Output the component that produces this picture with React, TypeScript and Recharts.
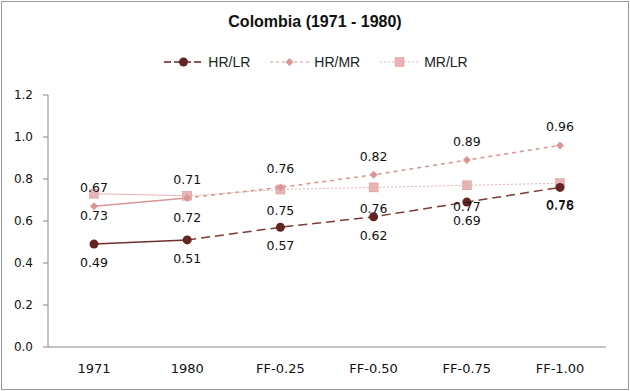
import { LineChart, Line, XAxis, YAxis, Legend, LabelList } from 'recharts';

const categories = ['1971', '1980', 'FF-0.25', 'FF-0.50', 'FF-0.75', 'FF-1.00'];
const hrLr = [0.49, 0.51, 0.57, 0.62, 0.69, 0.76];
const hrMr = [0.67, 0.71, 0.76, 0.82, 0.89, 0.96];
const mrLr = [0.73, 0.72, 0.75, 0.76, 0.77, 0.78];
const yTicks = [0, 0.2, 0.4, 0.6, 0.8, 1.0, 1.2];

const DARK = '#632523';
const PINK = '#d99694';
const LIGHT = '#e8b4b3';

// first segment (observed years) is solid, the projections are dashed
const data = categories.map((c, i) => ({
  name: c,
  hrLrA: i <= 1 ? hrLr[i] : null,
  hrLrB: i >= 1 ? hrLr[i] : null,
  hrMrA: i <= 1 ? hrMr[i] : null,
  hrMrB: i >= 1 ? hrMr[i] : null,
  mrLrA: i <= 1 ? mrLr[i] : null,
  mrLrB: i >= 1 ? mrLr[i] : null,
  hrLr: hrLr[i],
  hrMr: hrMr[i],
  mrLr: mrLr[i],
}));

const fontLabel = 'DejaVu Sans, Verdana, sans-serif';
const labelStyle = { fontFamily: fontLabel, fontSize: 12.5, fill: '#111' };

const Diamond = (props: any) => {
  const { cx, cy } = props;
  if (cx == null || cy == null) return null;
  return <path d={`M${cx},${cy - 4} L${cx + 4},${cy} L${cx},${cy + 4} L${cx - 4},${cy} Z`} fill={PINK} />;
};

const Square = (props: any) => {
  const { cx, cy } = props;
  if (cx == null || cy == null) return null;
  return <rect x={cx - 4.5} y={cy - 4.5} width={9} height={9} fill={LIGHT} stroke={PINK} strokeWidth={0.5} />;
};

const Circle = (props: any) => {
  const { cx, cy } = props;
  if (cx == null || cy == null) return null;
  return <circle cx={cx} cy={cy} r={4.5} fill={DARK} />;
};

const fmt = (v: any) => (v == null ? '' : Number(v).toFixed(2));

const LegendBox = () => {
  const items = [
    { label: 'HR/LR', color: DARK, dash: '7 3', width: 1.5, mark: 'circle' },
    { label: 'HR/MR', color: PINK, dash: '3 3', width: 1.2, mark: 'diamond' },
    { label: 'MR/LR', color: LIGHT, dash: '2 2', width: 1, mark: 'square' },
  ];
  return (
    <div style={{ display: 'flex', justifyContent: 'center', gap: 18, height: 20, alignItems: 'center' }}>
      {items.map((it) => (
        <div key={it.label} style={{ display: 'flex', alignItems: 'center' }}>
          <svg width={43} height={14}>
            <line x1={2} y1={7} x2={41} y2={7} stroke={it.color} strokeWidth={it.width} strokeDasharray={it.dash} />
            {it.mark === 'circle' && <circle cx={21.5} cy={7} r={4.5} fill={DARK} />}
            {it.mark === 'diamond' && <path d="M21.5,3 L25.5,7 L21.5,11 L17.5,7 Z" fill={PINK} />}
            {it.mark === 'square' && <rect x={17} y={2.5} width={9} height={9} fill={LIGHT} stroke={PINK} strokeWidth={0.5} />}
          </svg>
          <span style={{ fontFamily: 'Liberation Sans, Arial, sans-serif', fontSize: 14, color: '#222', marginLeft: 3 }}>
            {it.label}
          </span>
        </div>
      ))}
    </div>
  );
};

export default function App() {
  return (
    <div style={{ position: 'absolute', left: 0, top: 0, width: 630, height: 391, background: '#fff' }}>
      <div
        style={{
          position: 'absolute',
          left: 1,
          top: 1,
          width: 626,
          height: 387,
          border: '1px solid #9a9a9a',
        }}
      />
      <div
        style={{
          position: 'absolute',
          top: 13,
          width: 630,
          textAlign: 'center',
          fontFamily: 'Liberation Sans, Arial, sans-serif',
          fontWeight: 'bold',
          fontSize: 16,
          color: '#111',
        }}
      >
        Colombia (1971 - 1980)
      </div>
      <div style={{ position: 'absolute', left: 0, top: 0 }}>
        <LineChart width={630} height={391} data={data} margin={{ top: 75, right: 24, bottom: 14, left: 0 }}>
          <Legend verticalAlign="top" content={<LegendBox />} wrapperStyle={{ top: 52, left: 0, width: 630 }} />
          <XAxis
            dataKey="name"
            padding={{ left: 46, right: 46 }}
            tickLine={false}
            axisLine={{ stroke: '#888' }}
            tick={{ fontFamily: fontLabel, fontSize: 13, fill: '#111' }}
            tickMargin={11}
            height={30}
          />
          <YAxis
            domain={[0, 1.2]}
            ticks={yTicks}
            width={48}
            tickFormatter={(v: number) => v.toFixed(1)}
            axisLine={{ stroke: '#888' }}
            tickLine={{ stroke: '#888' }}
            tickSize={5}
            tickMargin={10}
            tick={{ fontFamily: fontLabel, fontSize: 12, fill: '#111' }}
          />
          <Line dataKey="mrLrA" stroke={LIGHT} strokeWidth={1} dot={false} isAnimationActive={false} legendType="none" />
          <Line dataKey="mrLrB" stroke={LIGHT} strokeWidth={1} strokeDasharray="2 2" dot={false} isAnimationActive={false} legendType="none" />
          <Line dataKey="hrMrA" stroke={PINK} strokeWidth={1.5} dot={false} isAnimationActive={false} legendType="none" />
          <Line dataKey="hrMrB" stroke={PINK} strokeWidth={1.5} strokeDasharray="4 4" dot={false} isAnimationActive={false} legendType="none" />
          <Line dataKey="hrLrA" stroke="#6e2e2c" strokeWidth={1.5} dot={false} isAnimationActive={false} legendType="none" />
          <Line dataKey="hrLrB" stroke="#7a3b39" strokeWidth={1.5} strokeDasharray="9 5" dot={false} isAnimationActive={false} legendType="none" />
          <Line dataKey="mrLr" name="MR/LR" stroke="none" dot={<Square />} activeDot={false} isAnimationActive={false}>
            <LabelList dataKey="mrLr" position="bottom" offset={17} formatter={fmt} style={labelStyle} />
          </Line>
          <Line dataKey="hrMr" name="HR/MR" stroke="none" dot={<Diamond />} activeDot={false} isAnimationActive={false}>
            <LabelList dataKey="hrMr" position="top" offset={14} formatter={fmt} style={labelStyle} />
          </Line>
          <Line dataKey="hrLr" name="HR/LR" stroke="none" dot={<Circle />} activeDot={false} isAnimationActive={false}>
            <LabelList dataKey="hrLr" position="bottom" offset={14} formatter={fmt} style={labelStyle} />
          </Line>
        </LineChart>
      </div>
    </div>
  );
}
